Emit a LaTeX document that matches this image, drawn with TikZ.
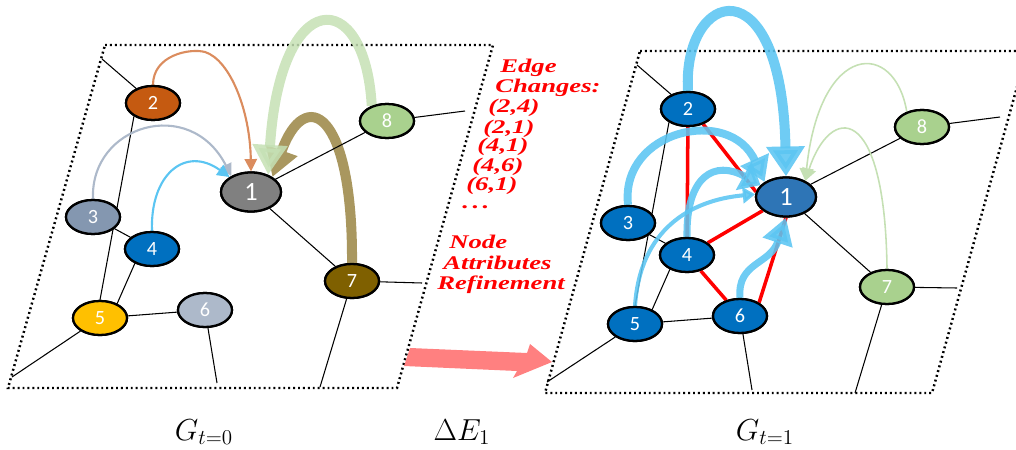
\documentclass[tikz,border=0pt]{standalone}
\usepackage{fontspec}
\newfontfamily\numfont{Carlito}
\newfontfamily\notefont[FakeStretch=1.38]{Liberation Serif}
\usetikzlibrary{arrows.meta,shapes.geometric}

\definecolor{rust}{HTML}{C55A11}
\definecolor{slate}{HTML}{8497B0}
\definecolor{azure}{HTML}{0070C0}
\definecolor{bronze}{HTML}{7F6000}
\definecolor{gold}{HTML}{FFC000}
\definecolor{mist}{HTML}{ADB9CA}
\definecolor{sage}{HTML}{A9D18E}
\definecolor{stone}{HTML}{808080}
\definecolor{steel}{HTML}{2E75B6}
\definecolor{paleolive}{HTML}{A9975F}
\definecolor{palegreen}{HTML}{C5E0B4}
\definecolor{sky}{HTML}{5BC5F2}
\definecolor{peach}{HTML}{DB8C5E}
\definecolor{salmon}{HTML}{FF8080}

\tikzset{
  vtx/.style={ellipse, draw=black, line width=1.3pt, minimum width=1.08cm,
    minimum height=0.68cm, inner sep=0pt, text=white,
    font=\numfont\fontsize{11.5}{11.5}\selectfont},
  hub/.style={vtx, minimum width=1.2cm, minimum height=0.78cm,
    font=\numfont\fontsize{15}{15}\selectfont},
  link/.style={line width=0.6pt},
  frame/.style={line width=1.4pt, dash pattern=on 1.1pt off 1.7pt},
  change/.style={red, line width=2pt},
  note/.style={anchor=base west, text=red, inner sep=0pt,
    font=\notefont\bfseries\itshape\fontsize{11}{11}\selectfont},
  thinarrow/.style={line width=1.2pt, -{Triangle[length=7pt,width=7pt]}},
  flow/.style={draw=sky, draw opacity=0.88, fill opacity=0.88},
  caption/.style={font=\fontsize{18}{18}\selectfont}
}

\begin{document}
\begin{tikzpicture}[x=0.02cm, y=-0.02cm]
\useasboundingbox (0,0) rectangle (1016,449);

% planes
\draw[frame] (105,45) -- (493,45) -- (397,388) -- (8,388) -- cycle;
\draw[frame] (640,51) -- (1027,51) -- (932,393) -- (545,393) -- cycle;

% ---------- graph at t = 0 ----------
\node[hub, fill=stone]  (L1) at (251,192) {1};
\node[vtx, fill=rust]   (L2) at (153,103) {2};
\node[vtx, fill=slate]  (L3) at (93,217)  {3};
\node[vtx, fill=azure]  (L4) at (152,249) {4};
\node[vtx, fill=gold]   (L5) at (100,318) {5};
\node[vtx, fill=mist]   (L6) at (205,310) {6};
\node[vtx, fill=bronze] (L7) at (352,281) {7};
\node[vtx, fill=sage]   (L8) at (387,121) {8};

\coordinate (lA) at (102,59);
\coordinate (lB) at (12,377);
\coordinate (lC) at (217,383);
\coordinate (lD) at (465,111);
\coordinate (lE) at (422,283);
\coordinate (lF) at (320,387);

% incoming edges of node 1 at t = 0
\draw[paleolive, line width=5.7pt, -{Triangle[length=16pt,width=18pt]}]
  (L7.north) .. controls (353,110) and (305,85) .. (L1.35);
\draw[palegreen, line width=5.7pt, draw opacity=0.85, fill opacity=0.85,
  -{Triangle[length=17pt,width=19pt]}]
  (L8.135) .. controls (365,-15) and (280,-15) .. (L1.45);

\draw[link] (lA) -- (L2);
\draw[link] (L2.215) -- (L5.north);
\draw[link] (L3) -- (L4);
\draw[link] (L4.220) -- (L5.40);
\draw[link] (L5) -- (L6);
\draw[link] (L5) -- (lB);
\draw[link] (L6) -- (lC);
\draw[link] (L1) -- (L8);
\draw[link] (L1) -- (L7);
\draw[link] (L8) -- (lD);
\draw[link] (L7) -- (lE);
\draw[link] (L7) -- (lF);

\draw[thinarrow, peach]
  (L2.north) .. controls (153,55) and (190,48) .. (205,52)
  .. controls (230,60) and (250,110) .. (L1.north);
\draw[thinarrow, mist]
  (L3.north) .. controls (90,125) and (190,95) .. (L1.141);
\draw[thinarrow, sky]
  (L4.north) .. controls (150,175) and (185,145) .. (L1.145);

% redraw nodes on top
\node[hub, fill=stone]  at (L1) {1};
\node[vtx, fill=rust]   at (L2) {2};
\node[vtx, fill=slate]  at (L3) {3};
\node[vtx, fill=azure]  at (L4) {4};
\node[vtx, fill=gold]   at (L5) {5};
\node[vtx, fill=mist]   at (L6) {6};
\node[vtx, fill=bronze] at (L7) {7};
\node[vtx, fill=sage]   at (L8) {8};

% ---------- graph at t = 1 ----------
\node[hub, fill=steel] (R1) at (786,197) {1};
\node[vtx, fill=azure] (R2) at (688,109) {2};
\node[vtx, fill=azure] (R3) at (628,223) {3};
\node[vtx, fill=azure] (R4) at (687,255) {4};
\node[vtx, fill=azure] (R5) at (635,324) {5};
\node[vtx, fill=azure] (R6) at (740,316) {6};
\node[vtx, fill=sage]  (R7) at (887,287) {7};
\node[vtx, fill=sage]  (R8) at (922,127) {8};

\coordinate (rA) at (637,65);
\coordinate (rB) at (547,382);
\coordinate (rC) at (752,390);
\coordinate (rD) at (1000,117);
\coordinate (rE) at (957,288);
\coordinate (rF) at (855,393);

\draw[link] (rA) -- (R2);
\draw[link] (R2.215) -- (R5.north);
\draw[link] (R3) -- (R4);
\draw[link] (R4.220) -- (R5.40);
\draw[link] (R5) -- (R6);
\draw[link] (R5) -- (rB);
\draw[link] (R6) -- (rC);
\draw[link] (R1) -- (R8);
\draw[link] (R1) -- (R7);
\draw[link] (R8) -- (rD);
\draw[link] (R7) -- (rE);
\draw[link] (R7) -- (rF);

% new edges
\draw[change] (R2) -- (R4);
\draw[change] (R2.-45) -- (R1.170);
\draw[change] (R4) -- (R1);
\draw[change] (R4) -- (R6);
\draw[change] (R6.35) -- (R1.south);

% attention flows into node 1
\draw[flow, line width=5.7pt, -{Triangle[length=17pt,width=21pt]}]
  (R2.north) .. controls (682,-10) and (782,-40) .. (R1.north);
\draw[flow, line width=4.5pt, -{Triangle[length=14pt,width=17pt]}]
  (R3.north) .. controls (620,130) and (730,105) .. (R1.145);
\draw[flow, line width=4pt, -{Triangle[length=11pt,width=18pt]}]
  (R4.north) .. controls (686,175) and (715,160) .. (R1.155);
\draw[flow, line width=2.3pt, -{Triangle[length=7pt,width=9pt]}]
  (R5.north) .. controls (640,230) and (690,200) .. (R1.175);
\draw[flow, line width=4pt, -{Triangle[length=15pt,width=17pt]}]
  (R6.north) .. controls (737,262) and (770,265) .. (R1.south);

\draw[palegreen, line width=0.9pt, -{Triangle[length=7pt,width=8pt]}]
  (R8.135) .. controls (895,40) and (820,40) .. (R1.40);
\draw[palegreen, line width=0.9pt, -{Triangle[length=7pt,width=8pt]}]
  (R7.north) .. controls (885,100) and (830,105) .. (R1.40);

\node[hub, fill=steel] at (R1) {1};
\node[vtx, fill=azure] at (R2) {2};
\node[vtx, fill=azure] at (R3) {3};
\node[vtx, fill=azure] at (R4) {4};
\node[vtx, fill=azure] at (R5) {5};
\node[vtx, fill=azure] at (R6) {6};
\node[vtx, fill=sage]  at (R7) {7};
\node[vtx, fill=sage]  at (R8) {8};

% ---------- transition ----------
\fill[salmon] (410,348) -- (527,353) -- (530,344) -- (552,362)
  -- (513,378) -- (517,371) -- (404,366) -- cycle;

\node[note] (n1)  at (500,73)  {Edge};
\node[note] (n2)  at (495,93)  {Changes:};
\node[note] (n3)  at (488,113) {(2,4)};
\node[note] (n4)  at (483,133) {(2,1)};
\node[note] (n5)  at (477,152) {(4,1)};
\node[note] (n6)  at (472,172) {(4,6)};
\node[note] (n7)  at (466,191) {(6,1)};
\node[note] (n8)  at (462,208) {.\kern2pt.\kern2pt.};
\node[note] (n9)  at (449,248) {Node};
\node[note] (n10) at (443,269) {Attributes};
\node[note] (n11) at (437,289) {Refinement};

% captions
\node[caption] (c0) at (204,432) {$G_{t=0}$};
\node[caption] (c1) at (462,432) {$\Delta E_1$};
\node[caption] (c2) at (765,432) {$G_{t=1}$};
\end{tikzpicture}
\end{document}
